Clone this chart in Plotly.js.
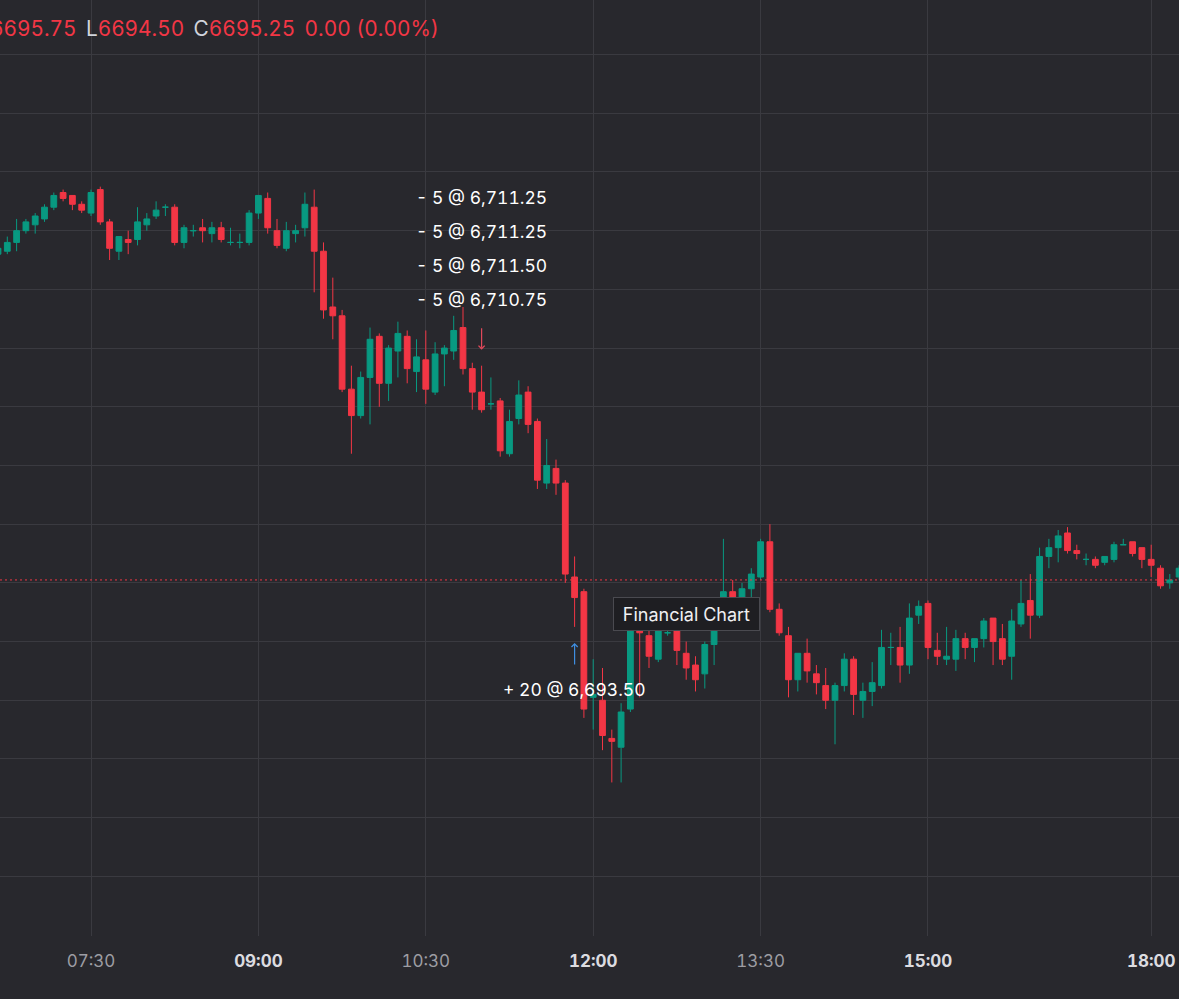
<!DOCTYPE html>
<html><head><meta charset="utf-8">
<script src="https://cdn.plot.ly/plotly-3.0.1.min.js"></script>
<style>html,body{margin:0;padding:0;background:#28282d;overflow:hidden}
svg text{font-feature-settings:"tnum" 1;}</style>
</head><body><div id="chart" style="width:1179px;height:999px"></div>
<script>
const times = [
'06:40','06:45','06:50','06:55','07:00','07:05','07:10','07:15','07:20','07:25',
'07:30','07:35','07:40','07:45','07:50','07:55','08:00','08:05','08:10','08:15',
'08:20','08:25','08:30','08:35','08:40','08:45','08:50','08:55','09:00','09:05',
'09:10','09:15','09:20','09:25','09:30','09:35','09:40','09:45','09:50','09:55',
'10:00','10:05','10:10','10:15','10:20','10:25','10:30','10:35','10:40','10:45',
'10:50','10:55','11:00','11:05','11:10','11:15','11:20','11:25','11:30','11:35',
'11:40','11:45','11:50','11:55','12:00','12:05','12:10','12:15','12:20','12:25',
'12:30','12:35','12:40','12:45','12:50','12:55','13:00','13:05','13:10','13:15',
'13:20','13:25','13:30','13:35','13:40','13:45','13:50','13:55','14:00','14:05',
'14:10','14:15','14:20','14:25','14:30','14:35','14:40','14:45','14:50','14:55',
'15:00','15:05','15:10','15:15','15:20','15:25','15:30','15:35','15:40','15:45',
'15:50','15:55','16:00','16:05','16:10','16:15','16:20','16:25','16:30','16:35',
'16:40','16:45','16:50','16:55','18:00','18:05','18:10','18:15'];

const open = [
6723.0,6723.25,6724.0,6725.0,6725.5,6726.0,6727.0,6728.25,6728.0,6727.25,
6726.5,6728.5,6725.75,6723.25,6724.25,6724.25,6725.5,6726.25,6727.0,6727.0,
6724.0,6725.0,6725.25,6724.75,6725.25,6724.0,6724.0,6724.0,6726.5,6727.75,
6725.0,6723.5,6724.75,6725.25,6727.0,6723.25,6718.5,6717.75,6711.5,6709.25,
6712.5,6716.0,6712.0,6714.75,6716.0,6713.0,6714.0,6711.25,6714.5,6714.75,
6716.75,6713.25,6711.25,6710.25,6710.5,6706.0,6709.0,6711.25,6708.75,6703.5,
6704.75,6703.5,6695.5,6694.25,6685.25,6685.0,6681.75,6681.0,6684.25,6691.25,
6690.5,6688.5,6690.75,6691.25,6689.0,6688.0,6687.25,6689.75,6692.75,6694.25,
6693.0,6694.5,6695.5,6698.5,6692.75,6690.5,6686.75,6689.0,6687.25,6686.25,
6685.0,6686.25,6688.5,6685.0,6685.75,6686.25,6689.5,6689.5,6688.0,6692.25,
6693.25,6689.25,6688.5,6688.5,6690.25,6689.5,6690.25,6692.0,6690.25,6688.75,
6691.5,6693.5,6692.25,6697.25,6698.0,6699.25,6697.75,6697.0,6697.0,6696.75,
6697.0,6698.25,6698.5,6698.0,6697.0,6696.25,6695.0,6695.5];

const high = [
6723.75,6724.5,6726.0,6726.0,6726.5,6727.25,6728.25,6728.5,6728.0,6727.5,
6728.5,6728.75,6726.0,6724.5,6725.0,6727.0,6726.5,6727.5,6727.25,6727.25,
6725.5,6725.5,6726.0,6725.75,6725.75,6725.25,6724.75,6726.75,6728.0,6728.25,
6726.0,6725.75,6725.5,6728.25,6728.5,6724.0,6721.0,6718.25,6713.5,6713.0,
6716.75,6716.25,6715.25,6717.25,6716.5,6715.75,6716.5,6715.5,6715.25,6717.75,
6718.5,6713.75,6713.5,6712.5,6710.75,6709.75,6712.25,6711.75,6709.0,6707.25,
6705.5,6703.75,6697.25,6694.5,6688.5,6687.75,6682.5,6684.75,6692.0,6691.75,
6691.25,6691.5,6691.25,6691.5,6690.0,6688.75,6690.0,6693.75,6698.75,6695.25,
6695.0,6696.25,6698.75,6700.0,6693.25,6691.25,6689.0,6690.25,6688.0,6687.75,
6686.5,6689.0,6688.75,6686.5,6688.25,6691.0,6690.75,6691.25,6693.25,6693.5,
6693.5,6690.75,6691.25,6691.0,6690.75,6690.25,6692.0,6692.0,6691.5,6692.75,
6695.25,6695.75,6698.0,6698.75,6699.5,6699.75,6698.25,6697.5,6697.25,6697.25,
6698.5,6698.75,6698.5,6698.0,6698.25,6696.5,6695.75,6696.5];

const low = [
6722.75,6723.0,6723.25,6724.75,6724.75,6725.75,6726.75,6727.5,6726.75,6726.5,
6726.25,6725.5,6722.5,6722.5,6723.0,6723.75,6725.0,6726.0,6726.25,6723.75,
6723.5,6724.5,6724.0,6724.0,6724.0,6723.75,6723.5,6723.75,6726.0,6724.75,
6723.5,6723.25,6724.0,6724.5,6719.75,6717.5,6715.75,6711.25,6706.0,6709.0,
6708.5,6710.0,6710.5,6712.5,6712.0,6711.25,6710.25,6711.0,6711.75,6714.0,
6712.75,6709.75,6709.5,6709.75,6705.75,6705.75,6708.5,6707.75,6703.0,6703.0,
6702.5,6695.0,6691.25,6683.5,6682.5,6680.75,6678.0,6678.0,6684.0,6685.25,
6687.75,6688.25,6690.5,6688.0,6686.75,6685.75,6686.0,6688.0,6692.25,6692.5,
6692.75,6693.5,6695.25,6692.5,6690.5,6685.25,6685.75,6686.5,6685.5,6684.25,
6681.25,6685.75,6683.75,6683.5,6684.5,6686.0,6688.0,6686.5,6687.25,6691.5,
6688.5,6688.0,6688.0,6687.5,6688.5,6688.25,6689.5,6688.0,6688.0,6686.75,
6691.25,6690.25,6692.0,6696.25,6696.75,6697.5,6697.0,6696.5,6696.25,6696.5,
6696.75,6698.25,6697.25,6696.25,6695.5,6694.5,6694.5,6695.25];

const close = [
6723.5,6724.0,6725.0,6725.75,6726.25,6727.0,6728.0,6727.75,6727.25,6726.75,
6728.25,6725.75,6723.5,6724.5,6724.0,6725.75,6726.0,6726.75,6727.0,6724.0,
6725.25,6725.0,6725.0,6725.25,6724.25,6724.0,6724.0,6726.5,6728.0,6725.25,
6723.75,6725.0,6725.0,6727.25,6723.25,6718.25,6717.75,6711.5,6709.25,6712.5,
6715.75,6712.0,6715.0,6716.25,6713.25,6714.25,6711.5,6714.5,6715.0,6716.5,
6713.25,6711.25,6709.75,6710.25,6706.25,6708.75,6711.0,6708.5,6703.75,6705.0,
6703.5,6695.75,6693.75,6684.25,6685.5,6682.0,6681.5,6684.0,6691.75,6690.75,
6688.75,6691.25,6690.75,6689.25,6687.75,6686.75,6689.75,6692.5,6694.25,6693.0,
6694.5,6695.75,6698.5,6692.75,6690.75,6686.75,6689.0,6687.5,6686.5,6685.0,
6686.25,6688.5,6685.5,6685.75,6686.5,6689.5,6689.5,6688.0,6692.0,6693.0,
6689.5,6688.75,6688.75,6690.25,6689.5,6690.25,6691.75,6690.0,6688.5,6691.75,
6693.25,6692.25,6697.25,6698.0,6699.0,6697.75,6697.5,6697.0,6696.5,6697.25,
6698.25,6698.25,6697.5,6697.0,6696.5,6694.75,6695.25,6696.25];

const tickTimes = ['07:30','09:00','10:30','12:00','13:30','15:00','18:00'];
const tickBold  = [false, true, false, true, false, true, true];

const headerTime = '18:10';
const lastPrice = 6695.25;
const changeText = '0.00 (0.00%)';
const sellTime = '11:00';
const sellQty = [5, 5, 5, 5];
const sellPrice = [6711.25, 6711.25, 6711.50, 6710.75];
const buyTime = '11:50';
const buyQty = [20];
const buyPrice = [6693.50];
const chartLabel = 'Financial Chart';

const UP = '#089981', DOWN = '#f23645';
const FONT = 'Inter, "Noto Sans", sans-serif';

const isDoji = open.map((o, i) => o === close[i]);
const nz = (arr) => arr.map((v, i) => isDoji[i] ? null : v);
const pick = (arr) => arr.filter((v, i) => isDoji[i]);

const main = {
  type: 'candlestick', x: times,
  open: nz(open), high: nz(high), low: nz(low), close: nz(close),
  increasing: {line: {color: UP, width: 1}, fillcolor: UP},
  decreasing: {line: {color: DOWN, width: 1}, fillcolor: DOWN},
  hoverinfo: 'skip', showlegend: false
};
const doji = {
  type: 'candlestick', x: pick(times),
  open: pick(open), high: pick(high), low: pick(low), close: pick(close),
  increasing: {line: {color: UP, width: 1}, fillcolor: UP},
  decreasing: {line: {color: UP, width: 1}, fillcolor: UP},
  hoverinfo: 'skip', showlegend: false
};

const fmt = (v) => v.toLocaleString('en-US', {minimumFractionDigits: 2, maximumFractionDigits: 2});
const hIdx = times.indexOf(headerTime);
const sIdx = times.indexOf(sellTime);
const bIdx = times.indexOf(buyTime);

const annotations = [];
const red = (t) => `<span style="color:${DOWN}">${t}</span>`;
const grey = (t) => `<span style="color:#d1d4dc">${t}</span>`;
const gap = ' \u2009';
annotations.push({
  xref: 'paper', yref: 'paper', x: 0, y: 1 - 28 / 936, xanchor: 'left', yanchor: 'middle',
  xshift: -12, showarrow: false,
  text: red(high[hIdx].toFixed(2)) + gap + grey('L') + red(low[hIdx].toFixed(2)) + gap +
        grey('C') + red(close[hIdx].toFixed(2)) + gap + red(changeText),
  font: {family: FONT, size: 20.8, color: DOWN}
});
sellQty.forEach((q, i) => {
  annotations.push({
    x: sellTime, y: high[sIdx], xref: 'x', yref: 'y', showarrow: false,
    xanchor: 'right', yanchor: 'middle', xshift: 67, yshift: 168 - 34 * i,
    text: `- ${q} @ ${fmt(sellPrice[i])}`, font: {family: FONT, size: 17.5, color: '#ffffff'}
  });
});
annotations.push({
  x: sellTime, y: high[sIdx], xref: 'x', yref: 'y', text: '', showarrow: true,
  ax: 0, ay: -23, yshift: 16, arrowhead: 4, arrowsize: 1, arrowwidth: 1.2, arrowcolor: '#e0485a', standoff: 0
});
buyQty.forEach((q, i) => {
  annotations.push({
    x: buyTime, y: low[bIdx], xref: 'x', yref: 'y', showarrow: false,
    xanchor: 'center', yanchor: 'middle', xshift: 0, yshift: -63,
    text: `+ ${q} @ ${fmt(buyPrice[i])}`, font: {family: FONT, size: 17.5, color: '#ffffff'}
  });
});
annotations.push({
  x: buyTime, y: low[bIdx], xref: 'x', yref: 'y', text: '', showarrow: true,
  ax: 0, ay: 23, yshift: -16, arrowhead: 4, arrowsize: 1, arrowwidth: 1.2, arrowcolor: '#3f8ee0', standoff: 0
});
annotations.push({
  xref: 'paper', yref: 'paper', x: 613 / 1179, y: 1 - 614 / 936, xanchor: 'left', yanchor: 'middle',
  showarrow: false, text: chartLabel, font: {family: FONT, size: 18, color: '#f0f0f2'},
  width: 141, height: 28, align: 'center',
  bgcolor: '#1e1e22', bordercolor: '#4a4a50', borderwidth: 1, borderpad: 2
});

const layout = {
  width: 1179, height: 999,
  paper_bgcolor: '#28282d', plot_bgcolor: '#28282d',
  margin: {l: 0, r: 0, t: 0, b: 63},
  showlegend: false, dragmode: false,
  boxgap: 0.38, boxgroupgap: 0,
  xaxis: {
    type: 'category', range: [0.215, 126.99], autorange: false,
    tickvals: tickTimes,
    ticktext: tickTimes.map((t, i) => tickBold[i] ? `<b><span style="color:#dcdce0">${t}</span></b>` : t),
    showgrid: true, gridcolor: '#3a3a40', gridwidth: 1,
    zeroline: false, showline: false, ticks: '',
    tickfont: {family: FONT, size: 17, color: '#9d9da3'},
    ticklabelstandoff: 13,
    rangeslider: {visible: false}, fixedrange: true
  },
  yaxis: {
    range: [6664.92, 6744.65], autorange: false, tick0: 6665, dtick: 5,
    showticklabels: false, showgrid: true, gridcolor: '#3a3a40', gridwidth: 1,
    zeroline: false, showline: false, ticks: '', fixedrange: true
  },
  shapes: [{
    type: 'line', xref: 'paper', x0: 0, x1: 1, yref: 'y', y0: lastPrice, y1: lastPrice,
    line: {color: DOWN, width: 1, dash: '2px,3px'}, layer: 'above'
  }],
  annotations: annotations
};

Plotly.newPlot('chart', [main, doji], layout, {staticPlot: true, displayModeBar: false});
</script>
</body></html>
